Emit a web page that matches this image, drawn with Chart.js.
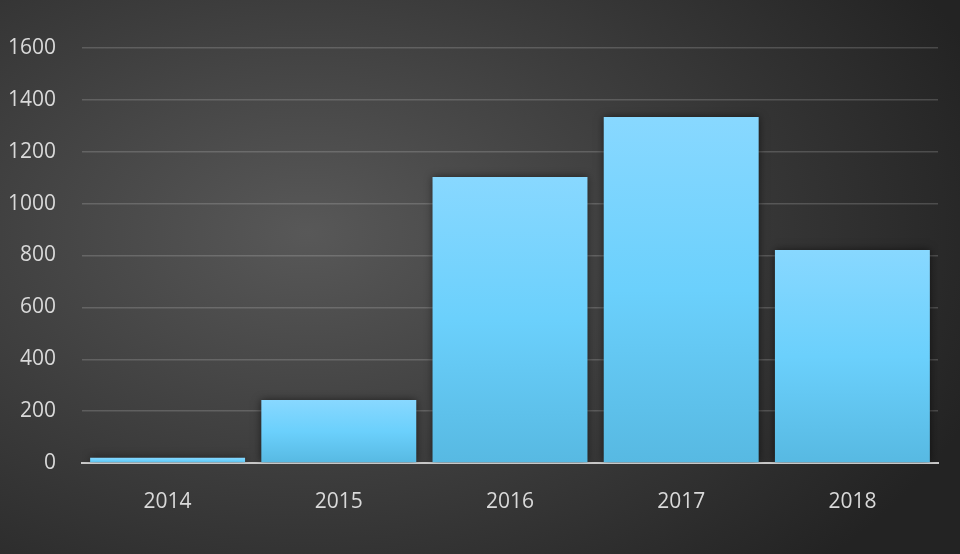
<!DOCTYPE html>
<html>
<head>
<meta charset="utf-8">
<script src="https://cdn.jsdelivr.net/npm/chart.js@4/dist/chart.umd.min.js"></script>
<style>
	html, body {
		margin: 0;
		padding: 0;
		background: #1e1e1e;
	}
	#wrap {
		width: 960px;
		height: 554px;
		background: radial-gradient(ellipse 75% 85% at 32% 42%, #585858 0%, #3d3d3d 50%, #232323 100%);
	}
</style>
</head>
<body>
<div id="wrap"><canvas id="canvas" width="960" height="554"></canvas></div>
<script>
const years = ['2014', '2015', '2016', '2017', '2018'];
const counts = [20, 243, 1103, 1334, 821];
const yTicks = [0, 200, 400, 600, 800, 1000, 1200, 1400, 1600];

const barShadow = {
	id: 'barShadow',
	beforeDatasetsDraw(chart) {
		const ctx = chart.ctx;
		ctx.save();
		ctx.shadowColor = 'rgba(0,0,0,0.55)';
		ctx.shadowBlur = 8;
		ctx.shadowOffsetX = 0;
		ctx.shadowOffsetY = 0;
	},
	afterDatasetsDraw(chart) {
		chart.ctx.restore();
	}
};

new Chart(document.getElementById('canvas'), {
	type: 'bar',
	plugins: [barShadow],
	data: {
		labels: years,
		datasets: [{
			data: counts,
			borderWidth: 0,
			categoryPercentage: 1,
			barPercentage: 0.905,
			backgroundColor: (ctx) => {
				const chart = ctx.chart;
				if (!chart.chartArea || ctx.raw === undefined) return '#6cd0fc';
				const top = chart.scales.y.getPixelForValue(ctx.raw);
				const bottom = chart.scales.y.getPixelForValue(0);
				if (bottom - top < 2) return '#6cd0fc';
				const g = chart.ctx.createLinearGradient(0, top, 0, bottom);
				g.addColorStop(0, '#88d8ff');
				g.addColorStop(0.5, '#6bd0fc');
				g.addColorStop(1, '#57b9e2');
				return g;
			}
		}]
	},
	options: {
		responsive: false,
		animation: false,
		plugins: {
			legend: { display: false },
			tooltip: { enabled: false }
		},
		layout: {
			padding: { top: 48, right: 22, left: 0, bottom: 0 }
		},
		scales: {
			x: {
				grid: { display: false },
				border: { display: true, color: '#c8c8c8', width: 2 },
				ticks: {
					color: '#d9d9d9',
					padding: 18,
					font: { family: 'Open Sans', size: 21 }
				},
				afterFit(scale) { scale.height = 91; }
			},
			y: {
				min: 0,
				max: 1600,
				afterBuildTicks(scale) { scale.ticks = yTicks.map(v => ({ value: v })); },
				grid: {
					color: 'rgba(255,255,255,0.17)',
					lineWidth: 1.5,
					drawTicks: false
				},
				border: { display: false },
				ticks: {
					color: '#d9d9d9',
					padding: 26,
					font: { family: 'Open Sans', size: 21 },
					callback: (v) => String(v)
				},
				afterFit(scale) { scale.width = 82; }
			}
		}
	}
});
</script>
</body>
</html>
